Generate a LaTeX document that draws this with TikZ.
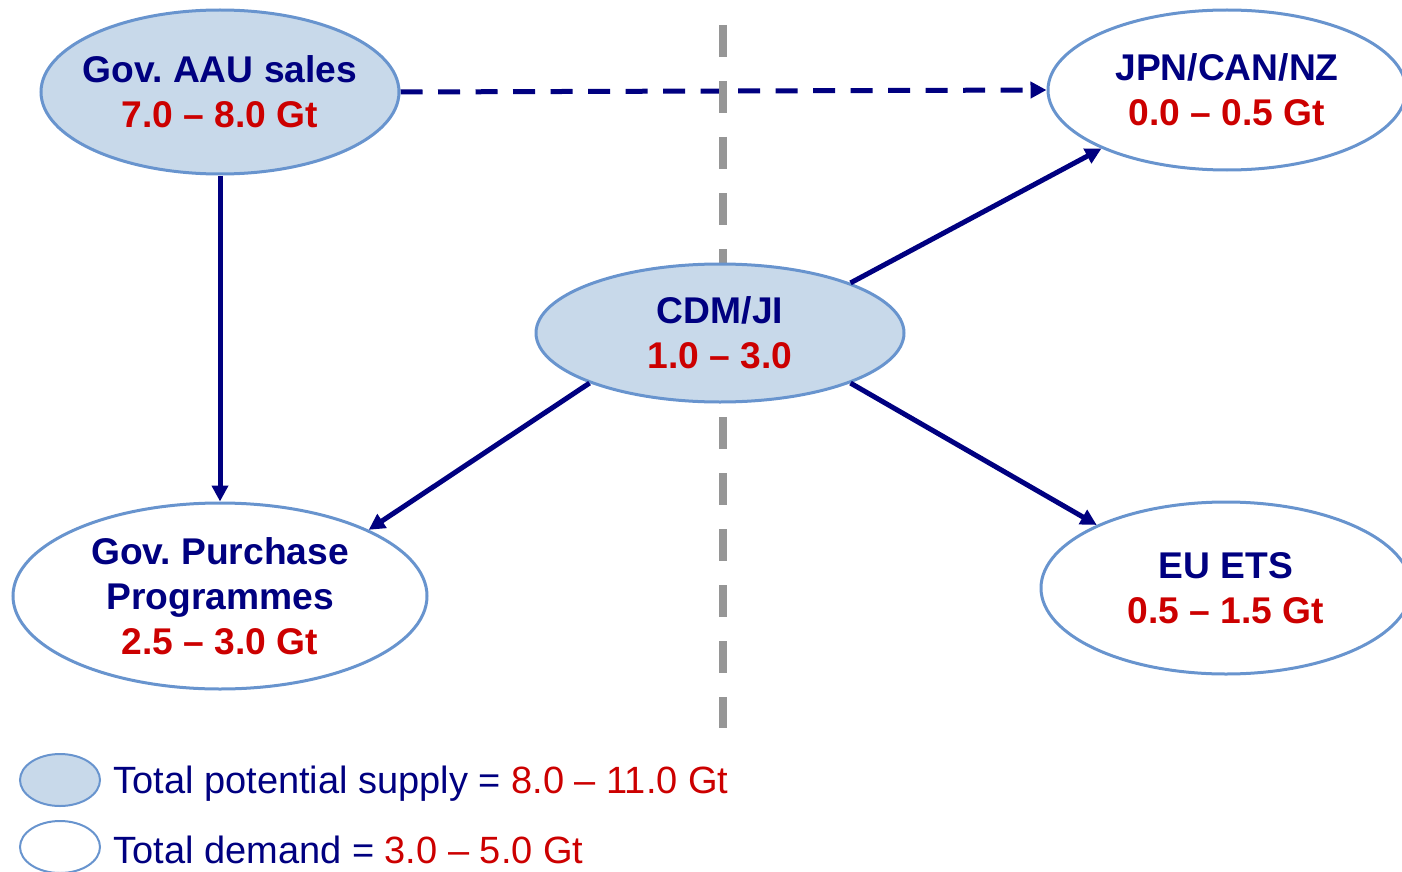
\documentclass[tikz,border=0pt]{standalone}
\usepackage{fontspec}
\setmainfont{Liberation Sans}
\usetikzlibrary{shapes.geometric}
\usetikzlibrary{arrows.meta}
\usetikzlibrary{backgrounds}
\definecolor{navy}{RGB}{0,0,128}
\definecolor{gtred}{RGB}{204,0,0}
\definecolor{supplyfill}{RGB}{200,217,234}
\definecolor{ellborder}{RGB}{104,148,206}
\definecolor{divgray}{RGB}{150,150,150}

\begin{document}
\begin{tikzpicture}
		[
		x=0.5pt, y=-0.5pt,
		font=\fontsize{18.6}{22.5}\selectfont\bfseries\frenchspacing
		]
		
		% Two ellipse styles: supply (filled) and demand (white)
		\tikzstyle{supply node}=[ellipse,draw=ellborder,line width=1.5pt,fill=supplyfill,inner xsep=-9pt,inner ysep=0,align=center,text=navy];
		\tikzstyle{demand node}=[ellipse,draw=ellborder,line width=1.5pt,fill=white,inner xsep=-9pt,inner ysep=0,align=center,text=navy];
		\tikzstyle{flow}=[draw=navy,line width=2.5pt,-{Triangle[length=8pt,width=8pt]}];
		\tikzstyle{legend text}=[anchor=west,inner sep=0,text=navy,font=\fontsize{19}{22}\selectfont];
		
		\useasboundingbox (0,0) rectangle (1402,872);
		
		% Supply side
		\node(aau)[supply node,minimum width=179pt,minimum height=82pt]at(220,92)
			{Gov. AAU sales\\\color{gtred}7.0 \textendash{} 8.0 Gt};
		\node(cdm)[supply node,minimum width=184pt,minimum height=69pt]at(720,333)
			{CDM/JI\\\color{gtred}1.0 \textendash{} 3.0};
		% Demand side
		\node(purch)[demand node,minimum width=207pt,minimum height=93pt]at(220,596)
			{Gov. Purchase\\Programmes\\\color{gtred}2.5 \textendash{} 3.0 Gt};
		\node(jpn)[demand node,minimum width=179pt,minimum height=80pt]at(1227,90)
			{JPN/CAN/NZ\\\color{gtred}0.0 \textendash{} 0.5 Gt};
		\node(eu)[demand node,minimum width=185pt,minimum height=86pt]at(1226,588)
			{EU ETS\\\color{gtred}0.5 \textendash{} 1.5 Gt};
		
		% Flows
		\draw[flow](aau.south)--(purch.north);
		\draw[flow](cdm.201)--(purch.24);
		\draw[flow](cdm.21)--(jpn.205);
		\draw[flow](cdm.339)--(eu.154);
		
		% Dashed flow and divider, behind the nodes
		\begin{pgfonlayer}{background}
		\draw[flow,dash pattern=on 11pt off 7.75pt](aau.east)--(jpn.west);
		\coordinate(divtop)at(723,25);
		\coordinate(divbot)at(723,728);
		\draw[divgray,line width=4pt,dash pattern=on 16pt off 12pt](divtop)--(divbot);
		\end{pgfonlayer}
		
		% Legend
		\node(supplykey)[supply node,line width=1pt,minimum width=40pt,minimum height=26pt]at(60,780){};
		\node(demandkey)[demand node,line width=1pt,minimum width=40pt,minimum height=26pt]at(60,847){};
		\node(supplytext)[legend text]at(113,784){Total potential supply = \textcolor{gtred}{8.0 \textendash{} 11.0 Gt}};
		\node(demandtext)[legend text]at(113,850){Total demand = \textcolor{gtred}{3.0 \textendash{} 5.0 Gt}};
		
		\end{tikzpicture}
\end{document}
